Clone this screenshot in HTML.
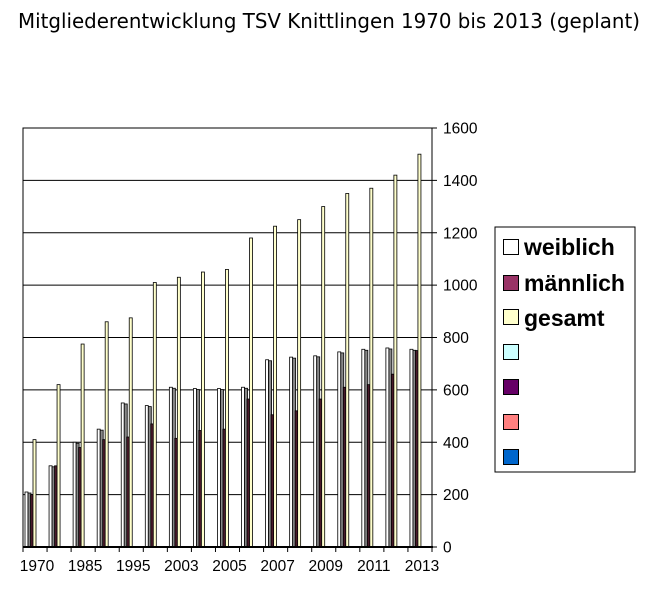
<!DOCTYPE html>
<html><head><meta charset="utf-8"><style>
html,body{margin:0;padding:0;background:#fff;width:651px;height:589px;overflow:hidden}
svg{display:block}
</style></head><body>
<svg id="s" width="651" height="589" xmlns="http://www.w3.org/2000/svg">
<text x="18" y="28" font-family="'DejaVu Sans','Liberation Sans',sans-serif" font-size="20" textLength="622" lengthAdjust="spacingAndGlyphs">Mitgliederentwicklung TSV Knittlingen 1970 bis 2013 (geplant)</text>
<g id="grid"></g>
<rect x="23" y="128" width="409" height="419" fill="none" stroke="#000" stroke-width="1"/>
<g id="bars"></g>
<line x1="23" y1="547" x2="433" y2="547" stroke="#000" stroke-width="2"/>
<g font-family="'Liberation Sans',sans-serif" font-size="15.5" id="ylab"></g>
<g font-family="'Liberation Sans',sans-serif" font-size="15.5" id="xlab" text-anchor="middle"></g>
<rect x="495" y="227" width="140" height="245" fill="#fff" stroke="#000" stroke-width="1"/>
<g stroke="#000" stroke-width="1">
<rect x="503.5" y="239.5" width="15" height="15" fill="#fff"/>
<rect x="503.5" y="275.5" width="15" height="15" fill="#993366"/>
<rect x="503.5" y="309.5" width="15" height="15" fill="#ffffcc"/>
<rect x="503.5" y="344.5" width="15" height="15" fill="#ccffff"/>
<rect x="503.5" y="379.5" width="15" height="15" fill="#660066"/>
<rect x="503.5" y="414.5" width="15" height="15" fill="#ff8080"/>
<rect x="503.5" y="449.5" width="15" height="15" fill="#0066cc"/>
</g>
<g font-family="'Liberation Sans',sans-serif" font-size="23" font-weight="bold">
<text x="524" y="255">weiblich</text>
<text x="524" y="291">männlich</text>
<text x="524" y="326">gesamt</text>
</g>
</svg>
<script>
var NS="http://www.w3.org/2000/svg";
function el(p,t,a,txt){var e=document.createElementNS(NS,t);for(var k in a)e.setAttribute(k,a[k]);if(txt!=null)e.textContent=txt;document.getElementById(p).appendChild(e);}
var k=419/1600;
for(var v=200;v<1600;v+=200){var y=547-v*k;el("grid","line",{x1:23,x2:432,y1:y,y2:y,stroke:"#000","stroke-width":1});}
for(var v=0;v<=1600;v+=200){var y=547-v*k;el("ylab","line",{x1:432,x2:437,y1:y,y2:y,stroke:"#000"});el("ylab","text",{x:443,y:y+5.5},String(v));}
var d=[[210,200,410],[310,310,620],[400,380,775],[450,410,860],[550,420,875],[540,470,1010],[610,415,1030],[605,445,1050],[605,450,1060],[610,565,1180],[715,505,1225],[725,520,1250],[730,565,1300],[745,610,1350],[755,620,1370],[760,660,1420],[755,750,1500]];
var labs=["1970","1985","1995","2003","2005","2007","2009","2011","2013"];
var cw=409/17;
for(var i=0;i<17;i++){var c=23+cw*i;
 el("xlab","line",{x1:c,x2:c,y1:547,y2:552,stroke:"#000"});
 var w=d[i][0],m=d[i][1],g=d[i][2];
 el("bars","rect",{x:c+2,y:547-w*k,width:3,height:w*k,fill:"#fff",stroke:"#000","stroke-width":0.8});
 el("bars","rect",{x:c+5,y:547-w*k+1,width:3,height:w*k-1,fill:"#888",stroke:"#000","stroke-width":0.8});
 el("bars","rect",{x:c+7.5,y:547-m*k,width:3,height:m*k,fill:"#4a1a2a",stroke:"#000","stroke-width":0.8});
 el("bars","rect",{x:c+10,y:547-g*k,width:3,height:g*k,fill:"#ffffcc",stroke:"#000","stroke-width":0.8});
 if(i%2==0)el("xlab","text",{x:c+cw/2+2,y:571},labs[i/2]);
}
el("xlab","line",{x1:432,x2:432,y1:547,y2:552,stroke:"#000"});
</script>
</body></html>
